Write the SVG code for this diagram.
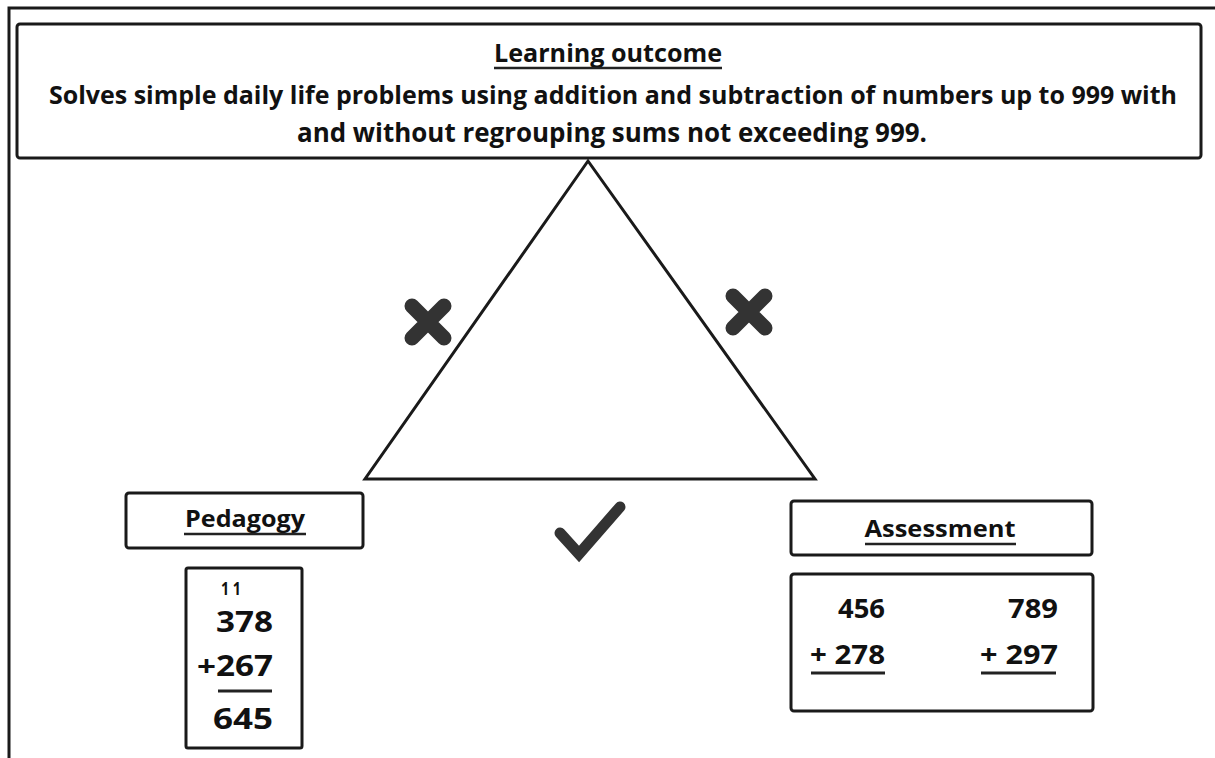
<svg xmlns="http://www.w3.org/2000/svg" width="1215" height="758" viewBox="0 0 1215 758">
<style>
.box{fill:#fff;stroke:#1a1a1a;stroke-width:3}
.t{font-family:"Open Sans","Liberation Sans",sans-serif;font-weight:bold;fill:#111}
.ul{stroke:#222;stroke-width:2.5}
.mark{stroke:#333;stroke-linecap:round;fill:none}
</style>
<rect width="1215" height="758" fill="#fff"/>
<g id="frame">
<path d="M9 758 V8 H1215" fill="none" stroke="#1a1a1a" stroke-width="3"/>
</g>
<g id="outcome">
<rect class="box" x="17" y="24" width="1184" height="134" rx="3"/>
<text class="t" x="608" y="62" font-size="25" text-anchor="middle" textLength="228" lengthAdjust="spacingAndGlyphs">Learning outcome</text>
<line class="ul" x1="494" y1="68" x2="722" y2="68"/>
<text class="t" x="613" y="104" font-size="25" text-anchor="middle" textLength="1128" lengthAdjust="spacingAndGlyphs">Solves simple daily life problems using addition and subtraction of numbers up to 999 with</text>
<text class="t" x="612" y="142" font-size="27" text-anchor="middle" textLength="630" lengthAdjust="spacingAndGlyphs">and without regrouping sums not exceeding 999.</text>
</g>
<g id="connectors">
<polygon points="588,161 365,479 815,479" fill="none" stroke="#1a1a1a" stroke-width="3" stroke-linejoin="miter"/>
</g>
<g id="xleft">
<path class="mark" d="M412 306 L444 338 M444 306 L412 338" stroke-width="15"/>
</g>
<g id="xright">
<path class="mark" d="M733 296 L765 328 M765 296 L733 328" stroke-width="15"/>
</g>
<g id="tick">
<path class="mark" d="M560 533 L579 554 L620 507" stroke-width="11"/>
</g>
<g id="pedagogy">
<rect class="box" x="126" y="493" width="237" height="55" rx="3"/>
<text class="t" x="245" y="527" font-size="23" text-anchor="middle" textLength="120" lengthAdjust="spacingAndGlyphs">Pedagogy</text>
<line class="ul" x1="184" y1="534" x2="306" y2="534"/>
</g>
<g id="pedagogy-example">
<rect class="box" x="186" y="568" width="116" height="180" rx="2"/>
<text class="t" x="221" y="595" font-size="18" textLength="20" lengthAdjust="spacingAndGlyphs">1 1</text>
<text class="t" x="216" y="632" font-size="29" textLength="57" lengthAdjust="spacingAndGlyphs">378</text>
<text class="t" x="197" y="676" font-size="29" textLength="76" lengthAdjust="spacingAndGlyphs">+267</text>
<line x1="218" y1="691" x2="272" y2="691" stroke="#222" stroke-width="3"/>
<text class="t" x="213" y="729" font-size="29" textLength="60" lengthAdjust="spacingAndGlyphs">645</text>
</g>
<g id="assessment">
<rect class="box" x="791" y="501" width="301" height="54" rx="3"/>
<text class="t" x="940" y="537" font-size="23" text-anchor="middle" textLength="151" lengthAdjust="spacingAndGlyphs">Assessment</text>
<line class="ul" x1="865" y1="544" x2="1016" y2="544"/>
</g>
<g id="assessment-example">
<rect class="box" x="791" y="574" width="302" height="137" rx="3"/>
<text class="t" x="838" y="618" font-size="27" textLength="47" lengthAdjust="spacingAndGlyphs">456</text>
<text class="t" x="1008" y="618" font-size="27" textLength="50" lengthAdjust="spacingAndGlyphs">789</text>
<text class="t" x="810" y="664" font-size="27" textLength="75" lengthAdjust="spacingAndGlyphs">+ 278</text>
<text class="t" x="980" y="664" font-size="27" textLength="78" lengthAdjust="spacingAndGlyphs">+ 297</text>
<line x1="811" y1="673" x2="885" y2="673" stroke="#222" stroke-width="3"/>
<line x1="981" y1="673" x2="1056" y2="673" stroke="#222" stroke-width="3"/>
</g>
</svg>
